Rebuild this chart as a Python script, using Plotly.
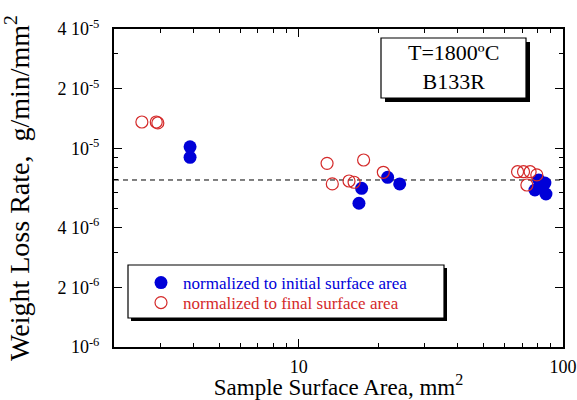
import numpy as np
import plotly.graph_objects as go

# ---- data ----
initial_area = [3.88, 3.88, 17.3, 16.9, 21.7, 24.1, 81.0, 85.4, 78.3, 86.2, 83.2]
initial_rate = [1.02e-5, 9.03e-6, 6.30e-6, 5.30e-6, 7.16e-6, 6.63e-6,
                6.94e-6, 6.70e-6, 6.18e-6, 5.90e-6, 6.40e-6]

final_area = [2.55, 2.89, 2.93, 12.8, 13.4, 15.5, 16.2, 17.6, 20.9,
              67.3, 70.9, 75.1, 79.6, 73.0]
final_rate = [1.36e-5, 1.36e-5, 1.345e-5, 8.42e-6, 6.63e-6, 6.86e-6, 6.76e-6,
              8.75e-6, 7.59e-6, 7.64e-6, 7.64e-6, 7.64e-6, 7.36e-6, 6.55e-6]

mean_rate = 6.94e-6
x_range = [2.0, 100.0]
y_range = [1e-6, 4e-5]

y_tickvals = [1e-6, 2e-6, 4e-6, 1e-5, 2e-5, 4e-5]
y_ticktext = ["10<sup>-6</sup>", "2 10<sup>-6</sup>", "4 10<sup>-6</sup>",
              "10<sup>-5</sup>", "2 10<sup>-5</sup>", "4 10<sup>-5</sup>"]
x_tickvals = [10, 100]
x_ticktext = ["10", "100"]

x_minor = [3, 4, 5, 6, 7, 8, 9, 20, 30, 40, 50, 60, 70, 80, 90]
y_minor = [3e-6, 5e-6, 6e-6, 7e-6, 8e-6, 9e-6, 3e-5]

BLUE = "#0000d8"
RED = "#d42a2a"
FONT = "Liberation Serif"

fig = go.Figure()

fig.add_trace(go.Scatter(
    x=x_range, y=[mean_rate, mean_rate], mode="lines",
    line=dict(color="black", width=1, dash="5px,4px"),
    showlegend=False, hoverinfo="skip"))

fig.add_trace(go.Scatter(
    x=initial_area, y=initial_rate, mode="markers", legend="legend",
    name=f"<span style='color:{BLUE}'>normalized to initial surface area</span>",
    marker=dict(symbol="circle", size=13, color=BLUE, line=dict(width=0))))

fig.add_trace(go.Scatter(
    x=final_area, y=final_rate, mode="markers", legend="legend2",
    name=f"<span style='color:{RED}'>normalized to final surface area</span>",
    marker=dict(symbol="circle-open", size=12, color=RED, line=dict(width=1.2, color=RED))))

W, H = 577, 400
L, R, T, B = 114, 14, 29, 53
PL, PT = L, T
pw, ph = W - L - R, H - T - B


def dx(px):
    return (px - PL) / pw


def dy(py):
    return (PT + ph - py) / ph


shapes = []
# legend box with shadow
shapes.append(dict(type="rect", xref="x domain", yref="y domain",
                   x0=dx(131), x1=dx(447), y0=dy(321), y1=dy(268),
                   fillcolor="black", line=dict(width=0), layer="above"))
shapes.append(dict(type="rect", xref="x domain", yref="y domain",
                   x0=dx(128), x1=dx(444), y0=dy(318), y1=dy(265),
                   fillcolor="white", line=dict(color="black", width=1.2), layer="above"))
# label box with shadow
shapes.append(dict(type="rect", xref="x domain", yref="y domain",
                   x0=dx(385), x1=dx(530), y0=dy(102), y1=dy(42),
                   fillcolor="black", line=dict(width=0), layer="above"))
shapes.append(dict(type="rect", xref="x domain", yref="y domain",
                   x0=dx(381), x1=dx(526), y0=dy(98), y1=dy(38),
                   fillcolor="white", line=dict(color="black", width=1.2), layer="above"))

leg_common = dict(xanchor="left", yanchor="middle", itemwidth=34,
                  bgcolor="rgba(0,0,0,0)", borderwidth=0,
                  font=dict(family=FONT, size=17))

fig.update_layout(
    width=W, height=H,
    margin=dict(l=L, r=R, t=T, b=B, autoexpand=False),
    paper_bgcolor="white", plot_bgcolor="white",
    font=dict(family=FONT, color="black", size=18),
    shapes=shapes,
    annotations=[dict(xref="x domain", yref="y domain", x=dx(453.5), y=dy(67),
                      text="T=1800ºC<br>B133R", showarrow=False,
                      font=dict(family=FONT, size=22, color="black"),
                      xanchor="center", yanchor="middle")],
    legend=dict(x=dx(139), y=dy(283), **leg_common),
    legend2=dict(x=dx(139), y=dy(303), **leg_common),
    showlegend=True,
)

fig.update_xaxes(
    type="log", range=[np.log10(x_range[0]), np.log10(x_range[1])],
    automargin=False,
    tickmode="array", tickvals=x_tickvals, ticktext=x_ticktext,
    ticks="inside", ticklen=8, tickwidth=1.2, tickcolor="black",
    ticklabelstandoff=2,
    minor=dict(tickmode="array", tickvals=x_minor, ticks="inside", ticklen=4,
               tickwidth=1.2, tickcolor="black", showgrid=False),
    showline=True, linewidth=2, linecolor="black", mirror="allticks",
    showgrid=False, zeroline=False,
    tickfont=dict(family=FONT, size=18),
    title=dict(text="Sample Surface Area, mm<sup>2</sup>",
               font=dict(family=FONT, size=23), standoff=2),
)
fig.update_yaxes(
    type="log", range=[np.log10(y_range[0]), np.log10(y_range[1])],
    automargin=False,
    tickmode="array", tickvals=y_tickvals, ticktext=y_ticktext,
    ticks="inside", ticklen=8, tickwidth=1.2, tickcolor="black",
    ticklabelstandoff=9,
    minor=dict(tickmode="array", tickvals=y_minor, ticks="inside", ticklen=4,
               tickwidth=1.2, tickcolor="black", showgrid=False),
    showline=True, linewidth=2, linecolor="black", mirror="allticks",
    showgrid=False, zeroline=False,
    tickfont=dict(family=FONT, size=18),
    title=dict(text="Weight Loss Rate,  g/min/mm<sup>2</sup>",
               font=dict(family=FONT, size=28), standoff=23),
)

fig.write_html(
    "out.html",
    config={"displayModeBar": False},
    post_script="document.body.style.margin='0';"
                "document.documentElement.style.overflow='hidden';"
                "document.body.style.overflow='hidden';",
)
